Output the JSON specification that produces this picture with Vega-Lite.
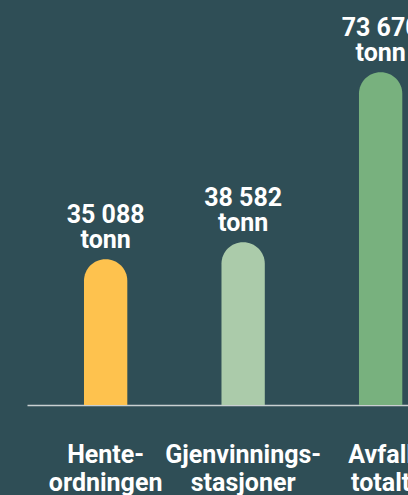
{
  "$schema": "https://vega.github.io/schema/vega-lite/v6.json",
  "autosize": {"type": "none"},
  "padding": {"left": 27, "top": 40, "right": 0, "bottom": 90},
  "width": 381,
  "height": 365,
  "background": "#2f4e56",
  "config": {"view": {"stroke": null}},
  "data": {
    "values": [
      {"kategori": "Hente-|ordningen", "tonn": 35088, "verdi": "35 088", "enhet": "tonn"},
      {"kategori": "Gjenvinnings-|stasjoner", "tonn": 38582, "verdi": "38 582", "enhet": "tonn"},
      {"kategori": "Avfall|totalt", "tonn": 73670, "verdi": "73 670", "enhet": "tonn"}
    ]
  },
  "encoding": {
    "x": {
      "field": "kategori",
      "type": "nominal",
      "sort": null,
      "scale": {"paddingInner": 0.685, "paddingOuter": 0.228, "align": 0.909},
      "axis": {
        "title": null,
        "labelAngle": 0,
        "labelExpr": "split(datum.label, '|')",
        "labelFont": "Roboto",
        "labelFontSize": 25,
        "labelFontWeight": "bold",
        "labelColor": "#ffffff",
        "labelLineHeight": 28.3,
        "labelPadding": 37,
        "ticks": false,
        "tickSize": 0,
        "domainColor": "#c9d0d1",
        "domainWidth": 1.5,
        "labelOverlap": false,
        "labelBound": false,
        "labelFlush": false
      }
    },
    "y": {
      "field": "tonn",
      "type": "quantitative",
      "scale": {"domain": [5000, 80300], "nice": false, "zero": false},
      "axis": null
    }
  },
  "layer": [
    {
      "mark": {"type": "bar", "cornerRadiusTopLeft": 21.5, "cornerRadiusTopRight": 21.5},
      "encoding": {
        "y2": {"datum": 5000},
        "color": {
          "field": "kategori",
          "type": "nominal",
          "scale": {
            "domain": ["Hente-|ordningen", "Gjenvinnings-|stasjoner", "Avfall|totalt"],
            "range": ["#fec24e", "#abcbaa", "#78b17e"]
          },
          "legend": null
        }
      }
    },
    {
      "mark": {
        "type": "text",
        "baseline": "alphabetic",
        "align": "center",
        "dy": -36,
        "font": "Roboto",
        "fontSize": 25,
        "fontWeight": "bold",
        "color": "#ffffff"
      },
      "encoding": {"text": {"field": "verdi"}}
    },
    {
      "mark": {
        "type": "text",
        "baseline": "alphabetic",
        "align": "center",
        "dy": -11,
        "font": "Roboto",
        "fontSize": 25,
        "fontWeight": "bold",
        "color": "#ffffff"
      },
      "encoding": {"text": {"field": "enhet"}}
    }
  ]
}
